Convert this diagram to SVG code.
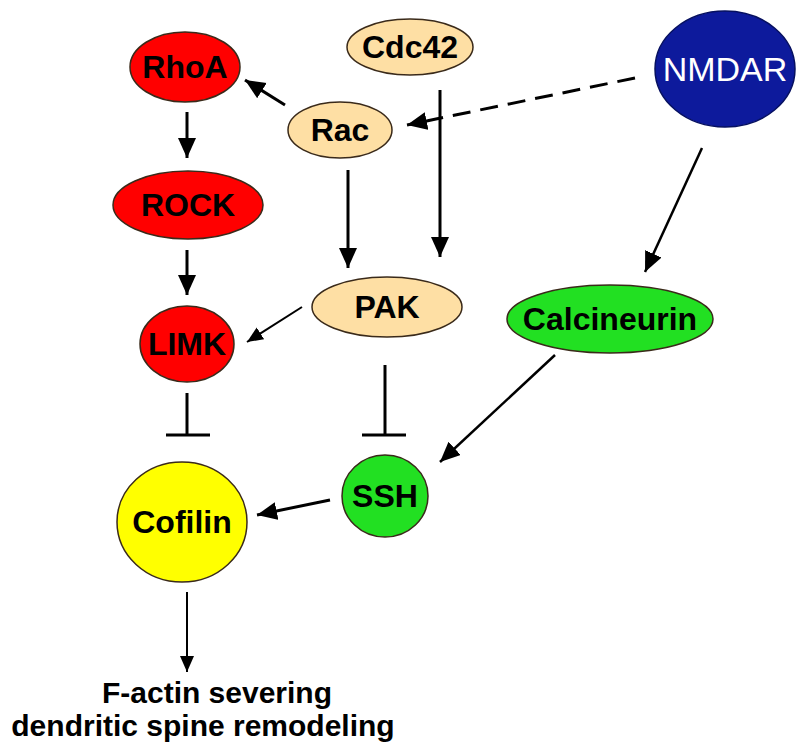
<svg xmlns="http://www.w3.org/2000/svg" width="800" height="755" viewBox="0 0 800 755">
<style>
.lbl{font-family:"Liberation Sans",Arial,sans-serif;font-weight:bold;font-size:32px;fill:#000;text-anchor:middle;dominant-baseline:central}
.out{font-family:"Liberation Sans",Arial,sans-serif;font-weight:bold;font-size:30px;fill:#000;text-anchor:middle}
.node{stroke:#3a2a1a;stroke-width:1.5}
.e{stroke:#000;stroke-width:3;fill:none}
.m{stroke:#000;stroke-width:2.5;fill:none}
.t{stroke:#000;stroke-width:2;fill:none}
</style>
<defs>
<marker id="ah" markerUnits="userSpaceOnUse" markerWidth="22" markerHeight="20" refX="20" refY="9" orient="auto">
<path d="M0,0 L20,9 L0,18 Z" fill="#000"/>
</marker>
<marker id="ahs" markerUnits="userSpaceOnUse" markerWidth="18" markerHeight="16" refX="16" refY="7" orient="auto">
<path d="M0,0 L16,7 L0,14 Z" fill="#000"/>
</marker>
</defs>
<rect width="800" height="755" fill="#fff"/>
<g id="connectors">
<line class="e" x1="285" y1="105" x2="245" y2="80" marker-end="url(#ah)"/>
<line class="e" x1="635" y1="78" x2="407" y2="125" stroke-dasharray="18,10" marker-end="url(#ah)"/>
<line class="e" x1="187" y1="112" x2="187" y2="158" marker-end="url(#ah)"/>
<line class="e" x1="187" y1="250" x2="187" y2="295" marker-end="url(#ah)"/>
<line class="e" x1="348" y1="170" x2="348" y2="268" marker-end="url(#ah)"/>
<line class="e" x1="440" y1="90" x2="440" y2="257" marker-end="url(#ah)"/>
<line class="t" x1="302" y1="307" x2="247" y2="342" marker-end="url(#ahs)"/>
<line class="m" x1="702" y1="148" x2="645" y2="272" marker-end="url(#ah)"/>
<line class="m" x1="555" y1="355" x2="440" y2="462" marker-end="url(#ah)"/>
<line class="e" x1="330" y1="500" x2="257" y2="515" marker-end="url(#ah)"/>
<line class="t" x1="187" y1="592" x2="187" y2="672" marker-end="url(#ahs)"/>
<line class="e" x1="187" y1="393" x2="187" y2="435"/>
<line class="e" x1="166" y1="435" x2="210" y2="435"/>
<line class="e" x1="385" y1="365" x2="385" y2="435"/>
<line class="e" x1="362" y1="435" x2="406" y2="435"/>
</g>
<g id="RhoA"><ellipse class="node" cx="185" cy="67" rx="55" ry="35" fill="#ff0000"/><text class="lbl" x="185" y="67">RhoA</text></g>
<g id="Cdc42"><ellipse class="node" cx="410" cy="47" rx="63" ry="28" fill="#fedfa4"/><text class="lbl" x="410" y="47">Cdc42</text></g>
<g id="Rac"><ellipse class="node" cx="340" cy="130" rx="52" ry="28" fill="#fedfa4"/><text class="lbl" x="340" y="130">Rac</text></g>
<g id="NMDAR"><ellipse cx="725" cy="69" rx="70" ry="58" fill="#0d1a9c" stroke="#061060" stroke-width="1.5"/><text class="lbl" x="725" y="69" style="font-weight:normal;fill:#fff;font-size:34px">NMDAR</text></g>
<g id="ROCK"><ellipse class="node" cx="188" cy="205" rx="75" ry="34" fill="#ff0000"/><text class="lbl" x="188" y="205">ROCK</text></g>
<g id="PAK"><ellipse class="node" cx="387" cy="307" rx="75" ry="30" fill="#fedfa4"/><text class="lbl" x="387" y="307">PAK</text></g>
<g id="LIMK"><ellipse class="node" cx="187" cy="344" rx="47" ry="38" fill="#ff0000"/><text class="lbl" x="187" y="344">LIMK</text></g>
<g id="Calcineurin"><ellipse class="node" cx="610" cy="319" rx="103" ry="34" fill="#22e022"/><text class="lbl" x="610" y="319">Calcineurin</text></g>
<g id="SSH"><ellipse class="node" cx="385" cy="496" rx="43" ry="41" fill="#22e022"/><text class="lbl" x="385" y="496">SSH</text></g>
<g id="Cofilin"><ellipse class="node" cx="182" cy="522" rx="65" ry="60" fill="#ffff00"/><text class="lbl" x="182" y="522">Cofilin</text></g>
<g id="output"><text class="out" x="217" y="703">F-actin severing</text><text class="out" x="203" y="736">dendritic spine remodeling</text></g>
</svg>
